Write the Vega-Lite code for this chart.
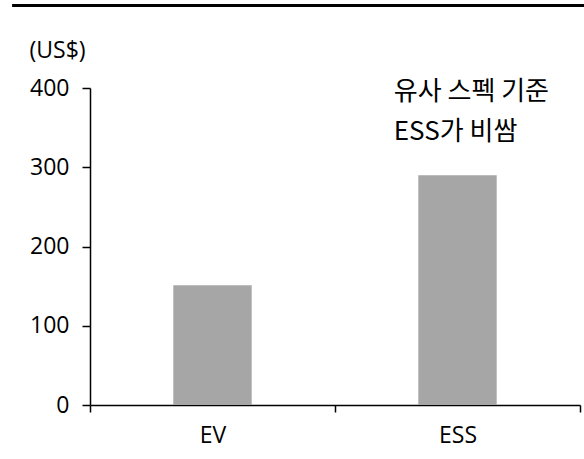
{
  "$schema": "https://vega.github.io/schema/vega-lite/v6.json",
  "autosize": "none",
  "width": 490,
  "height": 317,
  "padding": {"left": 90, "top": 88, "right": 4, "bottom": 54},
  "background": "white",
  "config": {
    "view": {"stroke": null},
    "font": "Open Sans",
    "axis": {"labelFont": "Open Sans", "labelFontSize": 23, "labelColor": "#000", "domainColor": "#000", "tickColor": "#000", "domainWidth": 1.5, "tickWidth": 1.5, "grid": false}
  },
  "datasets": {
    "bars": [
      {"type": "EV", "price": 151},
      {"type": "ESS", "price": 290}
    ],
    "deco": [
      {"x0": -0.159, "x1": 1.01, "yv": 504}
    ],
    "notes": [
      {"label": "유사 스펙 기준", "tx": 0.62, "ty": 395},
      {"label": "ESS가 비쌈", "tx": 0.62, "ty": 344}
    ]
  },
  "layer": [
    {
      "data": {"name": "bars"},
      "mark": {"type": "bar", "color": "#A6A6A6", "width": {"band": 0.32}},
      "encoding": {
        "x": {"field": "type", "type": "nominal", "sort": ["EV", "ESS"],
          "scale": {"paddingInner": 0, "paddingOuter": 0},
          "axis": {"title": null, "labelAngle": 0, "tickBand": "extent", "tickSize": 7, "labelPadding": 12}},
        "y": {"field": "price", "type": "quantitative",
          "scale": {"domain": [0, 400], "nice": false},
          "axis": {"values": [0, 100, 200, 300, 400], "tickSize": 8, "labelPadding": 13,
            "title": "(US$)", "titleAngle": 0, "titleAlign": "left", "titleBaseline": "middle",
            "titleX": -61, "titleY": -38, "titleFont": "Open Sans", "titleFontSize": 23, "titleFontWeight": "normal", "titleColor": "#000"}}
      }
    },
    {
      "data": {"name": "deco"},
      "mark": {"type": "rule", "color": "#000", "strokeWidth": 3},
      "encoding": {
        "x": {"field": "x0", "type": "quantitative", "scale": {"domain": [0, 1], "nice": false, "zero": false}, "axis": null},
        "x2": {"field": "x1"},
        "y": {"field": "yv", "type": "quantitative"}
      }
    },
    {
      "data": {"name": "notes"},
      "mark": {"type": "text", "align": "left", "baseline": "middle", "font": "Noto Sans CJK KR", "fontSize": 26, "color": "#000"},
      "encoding": {
        "x": {"field": "tx", "type": "quantitative", "scale": {"domain": [0, 1], "nice": false, "zero": false}, "axis": null},
        "y": {"field": "ty", "type": "quantitative"},
        "text": {"field": "label"}
      }
    }
  ],
  "resolve": {"scale": {"x": "independent"}}
}
